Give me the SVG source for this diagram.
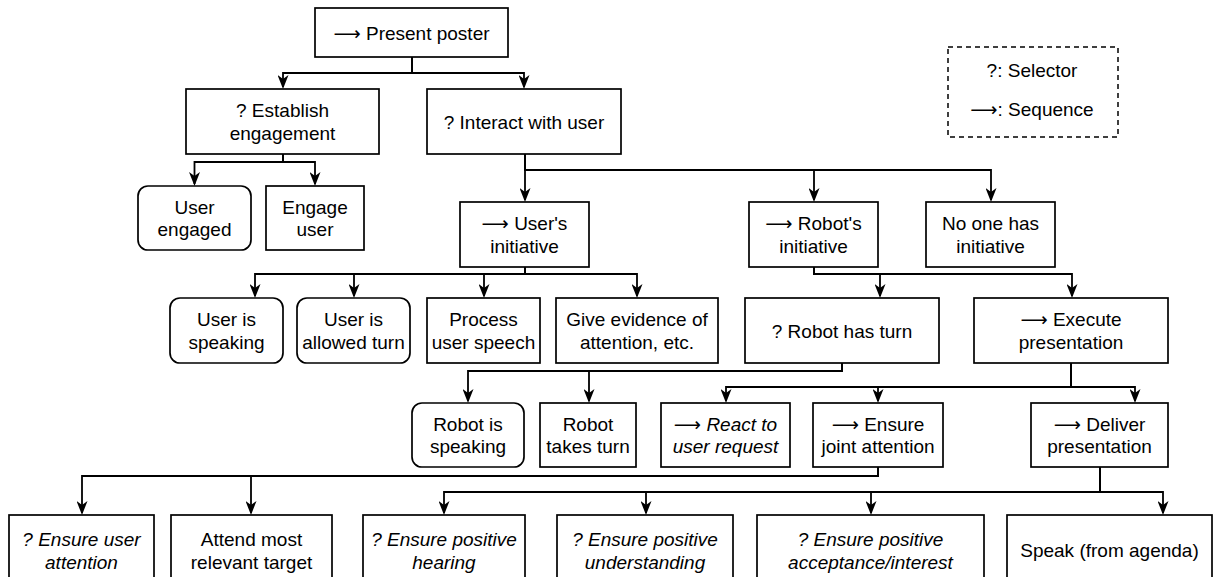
<svg xmlns="http://www.w3.org/2000/svg" width="1214" height="577" viewBox="0 0 1214 577">
<defs>
<marker id="ah" viewBox="0 0 14 11" refX="12" refY="5.5" markerWidth="14" markerHeight="11" markerUnits="userSpaceOnUse" orient="auto"><path d="M0,0 L14,5.5 L0,11 L4,5.5 Z" fill="#000"/></marker>
<style>
.b{fill:#fff;stroke:#000;stroke-width:1.7}
.t{font-family:"Liberation Sans","DejaVu Sans",Arial,sans-serif;font-size:19px;fill:#000;text-anchor:middle}
.i{font-style:italic}
.n{font-style:normal}
.e{fill:none;stroke:#000;stroke-width:1.8;marker-end:url(#ah)}
.lg{fill:none;stroke:#000;stroke-width:1.5;stroke-dasharray:5 4}
</style>
</defs>
<rect width="1214" height="577" fill="#fff"/>
<g id="connectors">
<path class="e" d="M412,57 V73 H283 V87"/>
<path class="e" d="M412,57 V73 H524 V87"/>
<path class="e" d="M283,154 V162 H194.5 V184"/>
<path class="e" d="M283,154 V162 H315 V184"/>
<path class="e" d="M525,154 V200"/>
<path class="e" d="M525,154 V170 H814 V200"/>
<path class="e" d="M525,154 V170 H991 V200"/>
<path class="e" d="M525,267 V274 H255 V296"/>
<path class="e" d="M525,267 V274 H354 V296"/>
<path class="e" d="M525,267 V274 H484 V296"/>
<path class="e" d="M525,267 V274 H637 V296"/>
<path class="e" d="M814,267 V274 H880 V296"/>
<path class="e" d="M814,267 V274 H1072 V296"/>
<path class="e" d="M842,363 V371 H468 V401"/>
<path class="e" d="M842,363 V371 H589 V401"/>
<path class="e" d="M1071,363 V387 H726 V401"/>
<path class="e" d="M1071,363 V387 H878 V401"/>
<path class="e" d="M1071,363 V387 H1135 V401"/>
<path class="e" d="M878,467 V476 H82 V513"/>
<path class="e" d="M878,467 V476 H251 V513"/>
<path class="e" d="M1100,467 V492 H444 V513"/>
<path class="e" d="M1100,467 V492 H646 V513"/>
<path class="e" d="M1100,467 V492 H871 V513"/>
<path class="e" d="M1100,467 V492 H1163 V513"/>
</g>
<g id="legend">
<rect class="lg" x="948" y="47" width="170" height="90"/>
<text class="t" x="1032" y="77">?: Selector</text>
<text class="t" x="1032" y="116">⟶: Sequence</text>
</g>
<g id="present_poster">
<rect class="b" x="315" y="8" width="193" height="49"/>
<text class="t" x="411.5" y="39.5">⟶ Present poster</text>
</g>
<g id="establish_engagement">
<rect class="b" x="186" y="89" width="193" height="65"/>
<text class="t" x="282.5" y="117">? Establish</text>
<text class="t" x="282.5" y="139.5">engagement</text>
</g>
<g id="interact_with_user">
<rect class="b" x="427" y="89" width="194" height="65"/>
<text class="t" x="524" y="128.5">? Interact with user</text>
</g>
<g id="user_engaged">
<rect class="b" x="138" y="186" width="113" height="64" rx="10"/>
<text class="t" x="194.5" y="213.5">User</text>
<text class="t" x="194.5" y="236">engaged</text>
</g>
<g id="engage_user">
<rect class="b" x="266" y="186" width="98" height="64"/>
<text class="t" x="315" y="213.5">Engage</text>
<text class="t" x="315" y="236">user</text>
</g>
<g id="users_initiative">
<rect class="b" x="460" y="202" width="129" height="65"/>
<text class="t" x="524.5" y="230">⟶ User's</text>
<text class="t" x="524.5" y="252.5">initiative</text>
</g>
<g id="robots_initiative">
<rect class="b" x="749" y="202" width="129" height="65"/>
<text class="t" x="813.5" y="230">⟶ Robot's</text>
<text class="t" x="813.5" y="252.5">initiative</text>
</g>
<g id="no_one_has_initiative">
<rect class="b" x="926" y="202" width="129" height="65"/>
<text class="t" x="990.5" y="230">No one has</text>
<text class="t" x="990.5" y="252.5">initiative</text>
</g>
<g id="user_is_speaking">
<rect class="b" x="170" y="298" width="113" height="65" rx="10"/>
<text class="t" x="226.5" y="326">User is</text>
<text class="t" x="226.5" y="348.5">speaking</text>
</g>
<g id="user_is_allowed_turn">
<rect class="b" x="297" y="298" width="113" height="65" rx="10"/>
<text class="t" x="353.5" y="326">User is</text>
<text class="t" x="353.5" y="348.5">allowed turn</text>
</g>
<g id="process_user_speech">
<rect class="b" x="427" y="298" width="113" height="65"/>
<text class="t" x="483.5" y="326">Process</text>
<text class="t" x="483.5" y="348.5">user speech</text>
</g>
<g id="give_evidence">
<rect class="b" x="556" y="298" width="162" height="65"/>
<text class="t" x="637" y="326">Give evidence of</text>
<text class="t" x="637" y="348.5">attention, etc.</text>
</g>
<g id="robot_has_turn">
<rect class="b" x="745" y="298" width="194" height="65"/>
<text class="t" x="842" y="337.5">? Robot has turn</text>
</g>
<g id="execute_presentation">
<rect class="b" x="974" y="298" width="194" height="65"/>
<text class="t" x="1071" y="326">⟶ Execute</text>
<text class="t" x="1071" y="348.5">presentation</text>
</g>
<g id="robot_is_speaking">
<rect class="b" x="412" y="403" width="112" height="64" rx="10"/>
<text class="t" x="468" y="430.5">Robot is</text>
<text class="t" x="468" y="453">speaking</text>
</g>
<g id="robot_takes_turn">
<rect class="b" x="540" y="403" width="96" height="64"/>
<text class="t" x="588" y="430.5">Robot</text>
<text class="t" x="588" y="453">takes turn</text>
</g>
<g id="react_to_user_request">
<rect class="b" x="661" y="403" width="129" height="64"/>
<text class="t" x="725.5" y="430.5">⟶ <tspan class="i">React to</tspan></text>
<text class="t i" x="725.5" y="453">user request</text>
</g>
<g id="ensure_joint_attention">
<rect class="b" x="813" y="403" width="130" height="64"/>
<text class="t" x="878" y="430.5">⟶ Ensure</text>
<text class="t" x="878" y="453">joint attention</text>
</g>
<g id="deliver_presentation">
<rect class="b" x="1031" y="403" width="137" height="64"/>
<text class="t" x="1099.5" y="430.5">⟶ Deliver</text>
<text class="t" x="1099.5" y="453">presentation</text>
</g>
<g id="ensure_user_attention">
<rect class="b" x="9" y="515" width="145" height="70"/>
<text class="t i" x="81.5" y="546">? Ensure user</text>
<text class="t i" x="81.5" y="568.5">attention</text>
</g>
<g id="attend_most_relevant_target">
<rect class="b" x="171" y="515" width="161" height="70"/>
<text class="t" x="251.5" y="546">Attend most</text>
<text class="t" x="251.5" y="568.5">relevant target</text>
</g>
<g id="ensure_positive_hearing">
<rect class="b" x="363" y="515" width="162" height="70"/>
<text class="t i" x="444" y="546">? Ensure positive</text>
<text class="t i" x="444" y="568.5">hearing</text>
</g>
<g id="ensure_positive_understanding">
<rect class="b" x="557" y="515" width="176" height="70"/>
<text class="t i" x="645" y="546">? Ensure positive</text>
<text class="t i" x="645" y="568.5">understanding</text>
</g>
<g id="ensure_positive_acceptance">
<rect class="b" x="757" y="515" width="227" height="70"/>
<text class="t i" x="870.5" y="546">? Ensure positive</text>
<text class="t i" x="870.5" y="568.5">acceptance/interest</text>
</g>
<g id="speak_from_agenda">
<rect class="b" x="1007" y="515" width="205" height="70"/>
<text class="t" x="1109.5" y="557">Speak (from agenda)</text>
</g>
</svg>
